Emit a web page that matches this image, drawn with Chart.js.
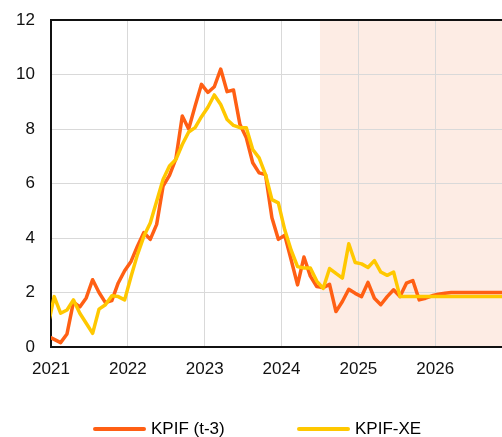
<!DOCTYPE html>
<html>
<head>
<meta charset="utf-8">
<script src="https://cdn.jsdelivr.net/npm/chart.js@4.4.1/dist/chart.umd.min.js"></script>
<style>
    body { margin: 0; background: #fff; overflow: hidden; }
    #wrap { position: relative; width: 502px; height: 437px; }
    #inflationChart { position: absolute; left: 0; top: 0; }
    .leg-line { position: absolute; height: 4px; width: 53px; border-radius: 2px; top: 427px; }
    .leg-text { position: absolute; top: 419px; line-height: 20px; font-size: 17px;
                font-family: 'Liberation Sans', Arial, sans-serif; color: #000; white-space: nowrap; }
</style>
</head>
<body>
<div id="wrap">
    <canvas id="inflationChart" width="502" height="437"></canvas>
    <span class="leg-line" style="left:93px; background:#ff5f14"></span>
    <span class="leg-text" style="left:151px">KPIF (t-3)</span>
    <span class="leg-line" style="left:297px; background:#ffc800"></span>
    <span class="leg-text" style="left:355px">KPIF-XE</span>
</div>
<script>
// monthly values, first point is Dec 2020 (clipped at the left edge)
const firstYear = 2020;
const firstMonth = 11;
const forecastStart = 2024.5;

const kpif = [
    0.4,
    0.28, 0.16, 0.48, 1.65, 1.47, 1.8, 2.47, 2.0, 1.63, 1.7, 2.35, 2.8,
    3.14, 3.7, 4.2, 3.95, 4.5, 5.9, 6.3, 6.9, 8.48, 8.0, 8.84, 9.64,
    9.34, 9.55, 10.2, 9.37, 9.43, 8.17, 7.68, 6.76, 6.39, 6.33, 4.74, 3.95,
    4.1, 3.2, 2.28, 3.3, 2.6, 2.22, 2.18, 2.3, 1.3, 1.67, 2.12, 1.97,
    1.85, 2.37, 1.79, 1.55, 1.85, 2.1, 1.85, 2.34, 2.44, 1.73, 1.79, 1.88,
    1.94, 1.97, 2.0, 2.0, 2.0, 2.0, 2.0, 2.0, 2.0, 2.0, 2.0, 2.0
];

const kpifXe = [
    0.75,
    1.85, 1.24, 1.36, 1.73, 1.24, 0.87, 0.5, 1.39, 1.55, 1.88, 1.85, 1.73,
    2.59, 3.39, 4.06, 4.55, 5.35, 6.15, 6.64, 6.88, 7.43, 7.89, 8.05, 8.45,
    8.8, 9.25, 8.9, 8.35, 8.13, 8.05, 8.05, 7.25, 6.94, 6.33, 5.41, 5.29,
    4.3, 3.55, 2.95, 2.9, 2.9, 2.42, 2.15, 2.88, 2.7, 2.53, 3.79, 3.1,
    3.05, 2.92, 3.17, 2.75, 2.63, 2.75, 1.85, 1.85, 1.85, 1.85, 1.85, 1.85,
    1.85, 1.85, 1.85, 1.85, 1.85, 1.85, 1.85, 1.85, 1.85, 1.85, 1.85, 1.85
];

const seriesNames = ['KPIF (t-3)', 'KPIF-XE'];
const yTicks = [0, 2, 4, 6, 8, 10, 12];

function toPoints(values) {
    return values.map((v, i) => ({ x: firstYear + (firstMonth + i + 0.5) / 12, y: v }));
}

const forecastShade = {
    id: 'forecastShade',
    beforeDraw(chart) {
        const { ctx, chartArea, scales } = chart;
        const x0 = scales.x.getPixelForValue(forecastStart);
        ctx.save();
        ctx.fillStyle = '#fdece4';
        ctx.fillRect(x0, chartArea.top, chartArea.right - x0, chartArea.bottom - chartArea.top);
        ctx.restore();
    }
};

const topBorder = {
    id: 'topBorder',
    afterDraw(chart) {
        const { ctx, chartArea } = chart;
        ctx.save();
        ctx.strokeStyle = '#111';
        ctx.lineWidth = 2;
        ctx.beginPath();
        ctx.moveTo(chartArea.left - 1, chartArea.top);
        ctx.lineTo(chartArea.right, chartArea.top);
        ctx.stroke();
        ctx.restore();
    }
};

Chart.defaults.font.family = "'Liberation Sans', Arial, sans-serif";
Chart.defaults.font.size = 17;
Chart.defaults.color = '#111';

new Chart(document.getElementById('inflationChart').getContext('2d'), {
    type: 'line',
    data: {
        datasets: [{
            label: seriesNames[0],
            data: toPoints(kpif),
            borderColor: '#ff5f14',
            backgroundColor: '#ff5f14',
            borderWidth: 3.5,
            borderJoinStyle: 'round',
            pointRadius: 0,
            tension: 0,
            order: 1
        }, {
            label: seriesNames[1],
            data: toPoints(kpifXe),
            borderColor: '#ffc800',
            backgroundColor: '#ffc800',
            borderWidth: 3.5,
            borderJoinStyle: 'round',
            pointRadius: 0,
            tension: 0,
            order: 0
        }]
    },
    options: {
        responsive: false,
        animation: false,
        layout: { padding: { top: 20, right: 0, left: 0, bottom: 0 } },
        plugins: {
            legend: { display: false },
            tooltip: { enabled: false }
        },
        scales: {
            x: {
                type: 'linear',
                min: 2021,
                max: 2026.869,
                afterFit: scale => { scale.height = 90; scale.paddingLeft = 0; scale.paddingRight = 0; },
                grid: { color: '#d9d9d9', lineWidth: 1, drawTicks: false },
                border: { color: '#111', width: 2 },
                ticks: {
                    stepSize: 1,
                    includeBounds: false,
                    maxRotation: 0,
                    padding: 12,
                    callback: v => String(v)
                }
            },
            y: {
                min: 0,
                max: 12,
                afterFit: scale => { scale.width = 51; scale.paddingTop = 0; scale.paddingBottom = 0; },
                afterBuildTicks: scale => { scale.ticks = yTicks.map(v => ({ value: v })); },
                grid: { color: '#d9d9d9', lineWidth: 1, drawTicks: false },
                border: { color: '#111', width: 2 },
                ticks: { padding: 16 }
            }
        }
    },
    plugins: [forecastShade, topBorder]
});
</script>
</body>
</html>
